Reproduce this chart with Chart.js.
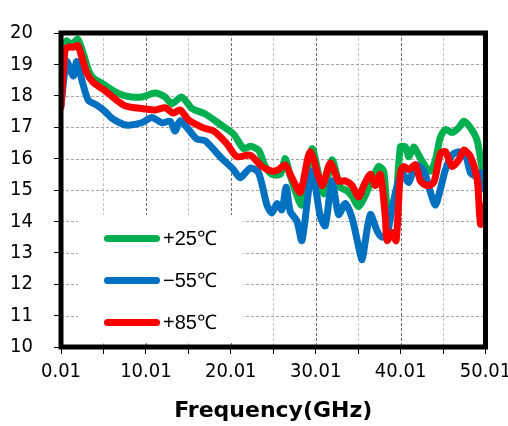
<!DOCTYPE html>
<html>
<head>
<meta charset="utf-8">
<script src="https://cdn.jsdelivr.net/npm/chart.js@4"></script>
<style>
  html, body { margin: 0; padding: 0; overflow: hidden; background: #fff; }
  #powerChart { display: block; }
</style>
</head>
<body>
<canvas id="powerChart" width="508" height="426"></canvas>
<script>
  // x ticks every 5 GHz, labels only on the 10s
  const freqTicks = [0.01, 5.01, 10.01, 15.01, 20.01, 25.01, 30.01, 35.01, 40.01, 45.01, 50.01];
  const seriesNames = ['+25℃', '−55℃', '+85℃'];

  // +25℃
  const freqP25 = [0.01, 0.28, 0.68, 1.27, 1.98, 2.64, 3.23, 3.82, 5.00, 6.18, 7.56, 9.53, 11.10, 12.28, 13.06, 14.24, 15.42, 17.00,
    18.76, 20.33, 21.51, 22.30, 23.28, 24.07, 24.86, 25.84, 26.42, 27.01, 28.39, 29.57, 30.94, 31.93, 32.91, 33.70,
    34.29, 35.07, 35.86, 36.65, 37.43, 38.02, 38.42, 39.01, 39.40, 39.99, 40.58, 40.97, 41.56, 42.14, 42.93, 43.52,
    44.11, 44.70, 45.29, 46.08, 46.86, 47.45, 48.24, 49.03, 49.62, 50.01];
  const outP25 = [19.2, 19.53, 19.75, 19.63, 19.8, 19.34, 18.83, 18.57, 18.37, 18.16, 18.0, 17.96, 18.09, 17.96, 17.75, 17.96, 17.6, 17.42,
    17.09, 16.78, 16.32, 16.39, 16.27, 15.75, 15.5, 15.5, 16.0, 15.45, 14.52, 16.32, 14.88, 15.96, 15.09, 14.98,
    14.8, 14.47, 14.83, 15.34, 15.75, 15.6, 14.52, 14.47, 14.42, 16.37, 16.37, 16.06, 16.37, 16.11, 15.75, 15.6,
    15.96, 16.68, 16.93, 16.83, 16.98, 17.19, 16.98, 16.57, 15.7, 15.55];

  // −55℃
  const freqM55 = [0.01, 0.68, 1.46, 1.86, 2.45, 3.23, 4.22, 5.20, 5.99, 7.17, 7.95, 9.53, 10.71, 11.89, 12.86, 13.45, 14.04, 15.02, 16.01, 16.99,
    18.76, 20.33, 21.12, 22.30, 23.28, 24.27, 24.86, 25.45, 26.03, 26.54, 27.01, 27.80, 28.39, 29.57, 30.55, 31.14, 31.93, 32.71,
    33.50, 34.29, 35.07, 35.47, 35.86, 36.45, 37.24, 37.83, 38.42, 39.01, 39.60, 40.19, 40.97, 41.76, 42.75, 43.52, 44.11,
    44.70, 45.29, 46.08, 46.86, 47.65, 48.24, 48.83, 49.42, 49.84, 50.01];
  const outM55 = [17.7, 19.09, 18.63, 19.09, 18.52, 17.86, 17.7, 17.5, 17.29, 17.11, 17.06, 17.14, 17.31, 17.14, 17.19, 16.88, 17.21, 16.93, 16.62, 16.57,
    16.06, 15.65, 15.39, 15.7, 15.55, 14.52, 14.27, 14.57, 14.37, 15.09, 14.32, 14.01, 13.39, 15.6, 14.16, 13.86, 15.29, 14.22,
    14.57, 14.11, 13.19, 12.78, 13.39, 14.22, 13.7, 13.5, 13.6, 14.42, 15.14, 15.55, 15.24, 15.8, 15.6, 14.93, 14.52,
    15.03, 15.65, 16.11, 16.22, 16.11, 15.55, 15.45, 15.55, 15.03, 15.19];

  // +85℃
  const freqP85 = [0.01, 0.48, 0.87, 1.46, 1.98, 2.45, 3.04, 3.82, 5.20, 6.38, 7.56, 8.74, 9.92, 11.10, 12.28, 13.25, 14.04, 15.02, 16.79,
    17.97, 19.55, 20.73, 22.30, 23.68, 24.86, 25.63, 26.42, 27.21, 28.19, 29.37, 30.75, 31.73, 32.71, 33.50,
    34.29, 35.07, 35.66, 36.45, 37.04, 37.63, 38.22, 38.42, 39.01, 39.48, 39.99, 40.38, 40.97, 41.76, 42.35, 43.13,
    43.92, 44.70, 45.29, 46.08, 46.86, 47.45, 48.24, 49.03, 49.42, 49.84, 50.01];
  const outP85 = [17.65, 19.45, 19.55, 19.55, 19.6, 19.24, 18.73, 18.42, 18.16, 17.9, 17.68, 17.62, 17.58, 17.55, 17.62, 17.45, 17.55, 17.24, 16.98,
    16.88, 16.47, 16.06, 16.11, 15.75, 15.6, 15.65, 15.8, 15.39, 14.93, 16.22, 15.14, 15.86, 15.29, 15.29,
    15.14, 14.78, 15.14, 15.5, 15.14, 15.5, 14.11, 13.39, 13.65, 13.39, 15.55, 15.75, 15.65, 15.8, 15.29, 15.14,
    15.24, 16.16, 16.22, 15.75, 15.96, 16.27, 16.06, 15.34, 13.91, 14.01, 14.52];

  const seriesColors = ['#00B050', '#0070C0', '#FF0000'];

  const toPoints = (xs, ys) => xs.map((x, i) => ({ x: x, y: ys[i] }));

  const tickFont = { family: "'DejaVu Sans Condensed', 'Liberation Sans', sans-serif", size: 20 };

  // legend drawn inside the plot on a white box
  const insideLegend = {
    id: 'insideLegend',
    afterDatasetsDraw(chart) {
      const { ctx, chartArea: a } = chart;
      ctx.save();
      ctx.fillStyle = '#fff';
      ctx.fillRect(a.left + 17, a.top + 182, 165, 128);
      ctx.lineCap = 'round';
      ctx.lineWidth = 7;
      ctx.font = "20px 'Liberation Sans', sans-serif";
      ctx.textBaseline = 'middle';
      ctx.fillStyle = '#000';
      seriesNames.forEach((name, i) => {
        const y = a.top + 205.5 + i * 42;
        ctx.strokeStyle = seriesColors[i];
        ctx.beginPath();
        ctx.moveTo(a.left + 46.5, y);
        ctx.lineTo(a.left + 95.5, y);
        ctx.stroke();
        ctx.fillText(name, a.left + 102, y + 1);
      });
      ctx.restore();
    }
  };

  // dashed grid from the scales' ticks, slid underneath what is already drawn
  const gridUnder = {
    id: 'gridUnder',
    afterDraw(chart) {
      const { ctx, chartArea: a, scales: { x, y } } = chart;
      ctx.save();
      ctx.globalCompositeOperation = 'destination-over';
      ctx.lineWidth = 1;
      ctx.setLineDash([3, 2]);
      y.ticks.forEach(t => {
        const py = Math.round(y.getPixelForValue(t.value)) + 0.5;
        ctx.strokeStyle = '#a6a6a6';
        ctx.beginPath(); ctx.moveTo(a.left, py); ctx.lineTo(a.right, py); ctx.stroke();
      });
      x.ticks.forEach((t, i) => {
        const px = Math.round(x.getPixelForValue(t.value)) + 0.5;
        ctx.strokeStyle = i % 2 === 0 ? '#6b6b6b' : '#c4c4c4';
        ctx.beginPath(); ctx.moveTo(px, a.top); ctx.lineTo(px, a.bottom); ctx.stroke();
      });
      ctx.restore();
    }
  };

  // thick black frame around the plot area
  const plotFrame = {
    id: 'plotFrame',
    afterDraw(chart) {
      const { ctx, chartArea: a } = chart;
      ctx.save();
      ctx.strokeStyle = '#000';
      ctx.lineWidth = 5;
      ctx.strokeRect(a.left, a.top, a.right - a.left, a.bottom - a.top);
      ctx.restore();
    }
  };

  const lineSet = (label, pts, color, order) => ({
    label: label,
    data: pts,
    borderColor: color,
    borderWidth: 7,
    pointRadius: 0,
    tension: 0.25,
    borderCapStyle: 'round',
    borderJoinStyle: 'round',
    order: order
  });

  new Chart(document.getElementById('powerChart'), {
    type: 'line',
    data: {
      datasets: [
        lineSet(seriesNames[0], toPoints(freqP25, outP25), seriesColors[0], 3),
        lineSet(seriesNames[1], toPoints(freqM55, outM55), seriesColors[1], 2),
        lineSet(seriesNames[2], toPoints(freqP85, outP85), seriesColors[2], 1)
      ]
    },
    options: {
      responsive: false,
      animation: false,
      layout: { padding: { left: 0, right: 22.5, top: 12, bottom: 0 } },
      plugins: {
        legend: { display: false },
        tooltip: { enabled: false }
      },
      scales: {
        x: {
          type: 'linear',
          min: 0.01,
          max: 50.01,
          afterBuildTicks: axis => { axis.ticks = freqTicks.map(v => ({ value: v })); },
          afterFit: scale => { scale.height = 79; scale.paddingLeft = 0; scale.paddingRight = 0; },
          ticks: {
            autoSkip: false,
            maxRotation: 0,
            padding: 6,
            color: '#000',
            font: tickFont,
            callback: (v, i) => (i % 2 === 0 ? Number(v).toFixed(2) : '')
          },
          grid: {
            drawOnChartArea: false,
            tickLength: 7,
            tickColor: '#000'
          },
          border: { color: '#000' },
          title: {
            display: true,
            text: 'Frequency(GHz)',
            color: '#000',
            font: { family: "'DejaVu Sans', sans-serif", size: 22, weight: 'bold' },
            padding: { top: 0, bottom: 2 }
          }
        },
        y: {
          min: 10,
          max: 20,
          afterFit: scale => { scale.width = 61; },
          ticks: {
            stepSize: 1,
            padding: 21,
            color: '#000',
            font: tickFont
          },
          grid: {
            drawOnChartArea: false,
            tickLength: 7,
            tickColor: '#000'
          },
          border: { color: '#000' }
        }
      }
    },
    plugins: [insideLegend, gridUnder, plotFrame]
  });
</script>
</body>
</html>
